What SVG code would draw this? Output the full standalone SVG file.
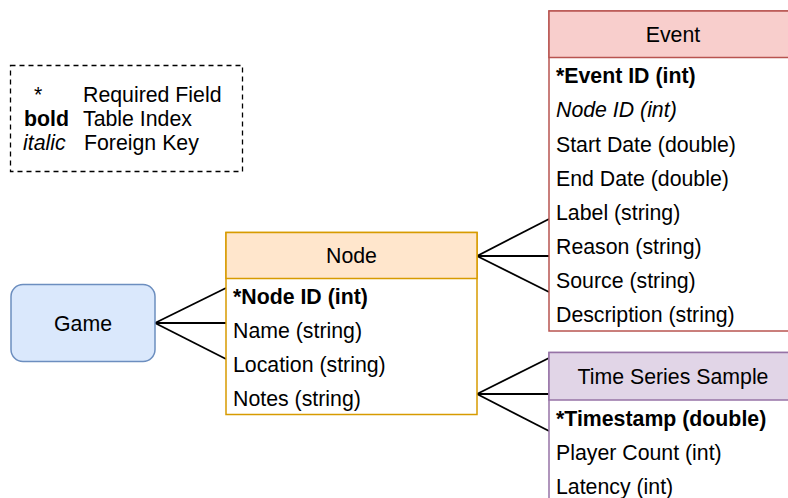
<svg xmlns="http://www.w3.org/2000/svg" width="788" height="498" viewBox="0 0 788 498">
<style>
text{font-family:"Liberation Sans",Arial,sans-serif;font-size:21.3px;fill:#000}
.b{font-weight:bold}
.i{font-style:italic}
.mid{text-anchor:middle}
.body{fill:#fff}
.conn line{stroke:#000;stroke-width:1.8;fill:none}
</style>
<rect width="788" height="498" fill="#fff"/>
<g id="legend">
<rect x="10.5" y="65.5" width="232" height="106" fill="none" stroke="#000" stroke-width="1.3" stroke-dasharray="5 4"/>
<text x="34" y="102">*</text>
<text x="83" y="102">Required Field</text>
<text class="b" x="24" y="126">bold</text>
<text x="83" y="126">Table Index</text>
<text class="i" x="23" y="150">italic</text>
<text x="84" y="150">Foreign Key</text>
</g>
<g class="conn" id="connectors">
<line x1="155" y1="323" x2="226" y2="288"/>
<line x1="155" y1="323" x2="226" y2="323"/>
<line x1="155" y1="323" x2="226" y2="359"/>
<line x1="477" y1="256" x2="549" y2="219"/>
<line x1="477" y1="256" x2="549" y2="256"/>
<line x1="477" y1="256" x2="549" y2="292"/>
<line x1="477" y1="394" x2="549" y2="358"/>
<line x1="477" y1="394" x2="549" y2="394"/>
<line x1="477" y1="394" x2="549" y2="431"/>
</g>
<g id="game">
<rect x="11" y="284.5" width="144" height="77" rx="12" fill="#dae8fc" stroke="#6c8ebf" stroke-width="1.5"/>
<text class="mid" x="83" y="330.5">Game</text>
</g>
<g id="node">
<rect x="226" y="232.5" width="251" height="182" class="body" stroke="#d79b00" stroke-width="1.5"/>
<rect x="226" y="232.5" width="251" height="46" fill="#ffe6cc" stroke="#d79b00" stroke-width="1.5"/>
<text class="mid" x="351.5" y="263">Node</text>
<text class="b" x="233" y="304">*Node ID (int)</text>
<text x="233" y="338">Name (string)</text>
<text x="233" y="372">Location (string)</text>
<text x="233" y="406">Notes (string)</text>
</g>
<g id="event">
<rect x="549" y="11" width="250" height="320" class="body" stroke="#b85450" stroke-width="1.5"/>
<rect x="549" y="11" width="250" height="46.5" fill="#f8cecc" stroke="#b85450" stroke-width="1.5"/>
<text class="mid" x="673" y="42">Event</text>
<text class="b" x="556" y="83">*Event ID (int)</text>
<text class="i" x="556" y="117">Node ID (int)</text>
<text x="556" y="151.5">Start Date (double)</text>
<text x="556" y="185.5">End Date (double)</text>
<text x="556" y="219.5">Label (string)</text>
<text x="556" y="253.5">Reason (string)</text>
<text x="556" y="287.5">Source (string)</text>
<text x="556" y="321.5">Description (string)</text>
</g>
<g id="timeseries">
<rect x="549" y="352.5" width="250" height="160" class="body" stroke="#9673a6" stroke-width="1.5"/>
<rect x="549" y="352.5" width="250" height="47.5" fill="#e1d5e7" stroke="#9673a6" stroke-width="1.5"/>
<text class="mid" x="673" y="384">Time Series Sample</text>
<text class="b" x="556" y="426">*Timestamp (double)</text>
<text x="556" y="460">Player Count (int)</text>
<text x="556" y="494">Latency (int)</text>
</g>
</svg>
